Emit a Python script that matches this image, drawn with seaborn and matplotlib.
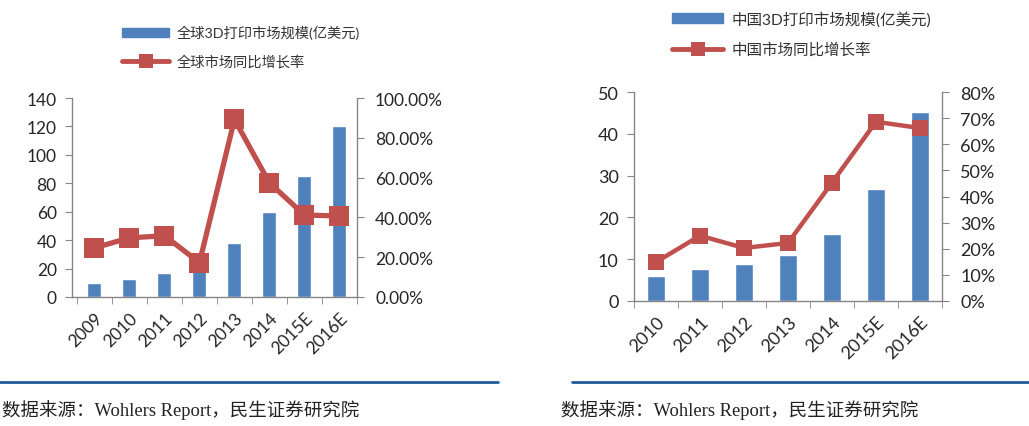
import numpy as np
import pandas as pd
import matplotlib
matplotlib.use('Agg')
import matplotlib.pyplot as plt
import seaborn as sns
from matplotlib.patches import Patch
from matplotlib.lines import Line2D
from matplotlib.ticker import PercentFormatter, FixedLocator, MultipleLocator

# global market (left panel)
global_years = ['2009', '2010', '2011', '2012', '2013', '2014', '2015E', '2016E']
global_size = [10, 13, 17, 22, 38, 60, 85, 120]
global_growth = [24.7, 29.7, 30.8, 17.3, 89.2, 57.3, 41.2, 40.7]

# china market (right panel)
china_years = ['2010', '2011', '2012', '2013', '2014', '2015E', '2016E']
china_size = [6, 7.6, 8.9, 11, 16, 26.9, 45.1]
china_growth = [14.9, 25.0, 20.3, 22.2, 45.3, 68.6, 66.2]

bar_label_g = '全球3D打印市场规模(亿美元)'
line_label_g = '全球市场同比增长率'
bar_label_c = '中国3D打印市场规模(亿美元)'
line_label_c = '中国市场同比增长率'
source = '数据来源：Wohlers Report，民生证券研究院'

BLUE = '#4F81BD'
RED = '#C0504D'
GRAY = '#868686'

sns.set_style('white')
plt.rcParams['font.family'] = ['Lato', 'Noto Sans CJK SC']
plt.rcParams['text.color'] = '#333333'

W, H = 1029, 427
fig = plt.figure(figsize=(W / 100, H / 100), dpi=100)


def panel(rect, years, size, growth, ymax, ystep, rmax, rstep, dec, xlim,
          fs, msize, lw):
    ax = fig.add_axes(rect)
    df = pd.DataFrame({'year': years, 'size': size, 'growth': growth})
    sns.barplot(data=df, x='year', y='size', color=BLUE, width=0.4,
                saturation=1, ax=ax, zorder=2)
    ax.set_xlim(*xlim)
    ax.set_ylim(0, ymax)
    ax.yaxis.set_major_locator(MultipleLocator(ystep))
    ax2 = ax.twinx()
    df['pos'] = np.arange(len(years))
    sns.lineplot(data=df, x='pos', y='growth', color=RED, lw=lw, marker='s',
                 markersize=msize, markeredgewidth=0, ax=ax2)
    ax2.set_ylim(0, rmax)
    ax2.yaxis.set_major_locator(MultipleLocator(rstep))
    ax2.yaxis.set_major_formatter(PercentFormatter(xmax=100, decimals=dec))
    ax2.set_xlim(*xlim)
    for a in (ax, ax2):
        a.set_xlabel('')
        a.set_ylabel('')
        for s in a.spines.values():
            s.set_visible(False)
        a.grid(False)
    ax.spines['left'].set_visible(True)
    ax.spines['bottom'].set_visible(True)
    ax2.spines['right'].set_visible(True)
    for s in (ax.spines['left'], ax.spines['bottom'], ax2.spines['right']):
        s.set_color(GRAY)
        s.set_linewidth(1)
    ax.set_xticks(np.arange(len(years)))
    ax.set_xticklabels(years, rotation=45, ha='right', rotation_mode='anchor')
    ax.xaxis.set_minor_locator(FixedLocator(np.arange(len(years) + 1) - 0.5))
    ax.tick_params(axis='x', which='major', length=0, pad=9, labelsize=fs)
    ax.tick_params(axis='x', which='minor', length=5, color=GRAY, bottom=True)
    ax.tick_params(axis='y', length=5, color=GRAY, left=True, labelsize=fs, pad=6)
    ax2.tick_params(axis='y', length=5, color=GRAY, right=True, labelsize=fs, pad=8)
    return ax, ax2


panel([72 / W, 1 - 298 / H, 285 / W, 199 / H], global_years, global_size,
      global_growth, 140, 20, 100, 20, 2, (-0.64, 7.5), 12.5, 14, 3.8)
panel([634 / W, 1 - 302 / H, 308 / W, 209 / H], china_years, china_size,
      china_growth, 50, 10, 80, 10, 0, (-0.5, 6.5), 13, 12, 3.2)


def legend(x, y, bar_label, line_label, fs):
    handles = [Patch(color=BLUE),
               Line2D([], [], color=RED, lw=3.5, marker='s', markersize=10,
                      markeredgewidth=0)]
    fig.legend(handles, [bar_label, line_label], loc='upper left',
               bbox_to_anchor=(x, y), bbox_transform=fig.transFigure,
               frameon=False, fontsize=fs, handlelength=3.3, handleheight=0.6,
               handletextpad=0.5, labelspacing=1.0, borderpad=0,
               borderaxespad=0)


legend(122 / W, 1 - 26 / H, bar_label_g, line_label_g, 10.3)
legend(672 / W, 1 - 12 / H, bar_label_c, line_label_c, 11.2)

# footer rule and source
fy = 1 - 383 / H
fig.add_artist(Line2D([0, 498 / W], [fy, fy], transform=fig.transFigure,
                      color='#1F5C99', lw=2))
fig.add_artist(Line2D([572 / W, 1], [fy, fy], transform=fig.transFigure,
                      color='#1F5C99', lw=2))
for x in (2 / W, 561 / W):
    fig.text(x, 1 - 410 / H, source, fontsize=13.3, va='center', ha='left',
             family=['Liberation Serif', 'Noto Sans CJK SC'], color='#222222')

fig.savefig('out.png', dpi=100)
